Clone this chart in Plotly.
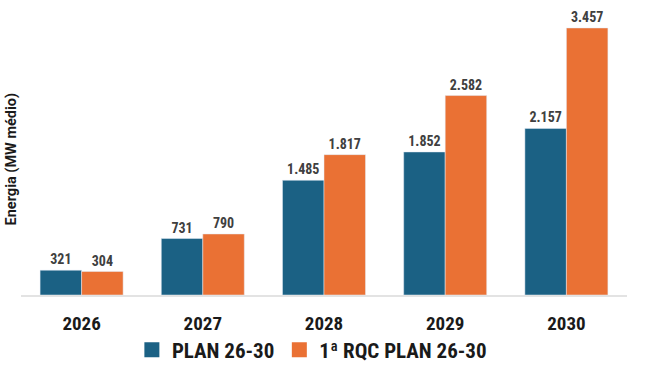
import plotly.graph_objects as go

years = ["2026", "2027", "2028", "2029", "2030"]
plan = [321, 731, 1485, 1852, 2157]
rqc = [304, 790, 1817, 2582, 3457]
series_names = ["PLAN 26-30", "1ª RQC PLAN 26-30"]
y_title = "Energia (MW médio)"

BLUE = "#1B6184"
ORANGE = "#EA7134"
NARROW = "Liberation Sans Narrow, Roboto Condensed, Roboto, sans-serif"
LBL_FONT = dict(family=NARROW, size=14, color="#404040", weight="bold")
LBL_TPL = "%{y:,}"

fig = go.Figure()
fig.add_bar(x=years, y=plan, name=series_names[0], marker_color=BLUE,
            texttemplate=LBL_TPL, textposition="outside", textfont=LBL_FONT,
            cliponaxis=False, showlegend=False)
fig.add_bar(x=years, y=rqc, name=series_names[1], marker_color=ORANGE,
            texttemplate=LBL_TPL, textposition="outside", textfont=LBL_FONT,
            cliponaxis=False, showlegend=False)
# legend entries with larger square symbols
for nm, col in zip(series_names, [BLUE, ORANGE]):
    fig.add_scatter(x=[None], y=[None], mode="markers", name=nm,
                    marker=dict(symbol="square", size=15, color=col))

fig.update_layout(
    width=660, height=366,
    margin=dict(l=21, r=33, t=20, b=71, autoexpand=False),
    plot_bgcolor="white", paper_bgcolor="white",
    barmode="group", bargap=0.315, bargroupgap=0,
    separators=",.",
    showlegend=True,
    legend=dict(orientation="h", x=0.48, xanchor="center", y=-0.2, yanchor="middle",
                font=dict(family=NARROW, size=21, color="#1a1a1a", weight="bold"),
                itemwidth=30, traceorder="normal", itemclick=False),
    xaxis=dict(range=[-0.5, 4.5], showline=True, linecolor="#E3E3E3", linewidth=2, ticks="",
               ticklabelstandoff=10,
               tickfont=dict(family=NARROW, size=19, color="#1a1a1a", weight="bold")),
    yaxis=dict(range=[0, 3560], showgrid=False, showticklabels=False, zeroline=False),
    annotations=[dict(text="<b>" + y_title + "</b>", xref="paper", yref="paper",
                      x=-0.0165, xanchor="center", y=0.493, yanchor="middle", textangle=-90,
                      showarrow=False,
                      font=dict(family="Roboto, sans-serif", size=14.5, color="#1a1a1a"))],
)

fig.write_html("out.html", config={"displayModeBar": False},
               post_script="document.body.style.margin='0';")
